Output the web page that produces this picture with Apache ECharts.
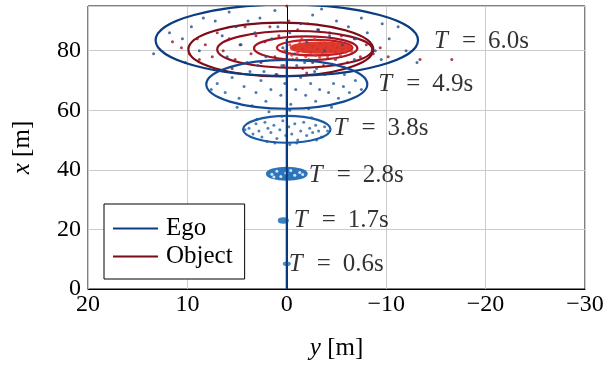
<!DOCTYPE html>
<html>
<head>
<meta charset="utf-8">
<script src="https://cdn.jsdelivr.net/npm/echarts@6/dist/echarts.min.js"></script>
<style>
  html, body { margin: 0; padding: 0; background: #fff; }
  #chart { width: 611px; height: 366px; }
</style>
</head>
<body>
<div id="chart"></div>
<script>
// ellipses: [y center, x center, half width in y, half height in x]
const egoEllipses = [
  [0.0, 83.5, 13.2, 12.0],
  [0.0, 68.7, 8.1, 8.2],
  [0.0, 53.6, 4.4, 4.5],
  [0.0, 38.7, 2.0, 2.0],
  [0.35, 23.0, 0.45, 0.7],
  [0.0, 8.5, 0.3, 0.4]
];
const egoColors = ["#0c3c80", "#104a94", "#1a5aa4", "#2e74bb", "#3a82c6", "#4a92d2"];
const egoFilled = [false, false, false, true, true, false];

const objEllipses = [
  [0.6, 80.4, 9.3, 9.0],
  [-0.8, 80.4, 7.8, 6.2],
  [-1.9, 80.8, 5.2, 4.0],
  [-2.8, 81.0, 3.8, 2.6],
  [-3.4, 81.0, 3.0, 1.7]
];
const objColors = ["#7a0b17", "#8e0e1c", "#a51320", "#bf1a22", "#dc3a2c"];
const objFilled = [false, false, false, false, true];

const egoTrack = [[0, 0], [0, 84]];

const tLabels = ["6.0", "4.9", "3.8", "2.8", "1.7", "0.6"];
const tLabelPos = [[-14.8, 83.2], [-9.2, 68.6], [-4.7, 53.8], [-2.2, 38.0], [-0.7, 23.0], [-0.2, 8.2]];

const egoDots60 = [[13.4,79],[11.8,86],[10.5,84],[9.6,88],[8.4,91],[7.2,90],[6.5,85],[5.8,93],[5.1,88],[4.6,82],
  [3.9,90],[3.2,86],[2.7,91],[2.1,78],[1.5,84],[0.9,88],[0.4,81],[-0.3,86],[-0.8,79],[-1.4,89],[-2.0,83],
  [-2.6,92],[-3.1,87],[-3.8,80],[-4.3,85],[-5.0,90],[-5.6,82],[-6.2,88],[-6.9,84],[-7.5,91],[-8.1,86],
  [-8.9,80],[-9.6,89],[-10.3,84],[-11.2,88],[-12.0,80],[-13.1,76],[-3.5,94],[1.2,93.5],[4.0,76],[-1.0,75],
  [6.0,78],[-6.8,77],[8.8,80],[-9.5,77],[2.3,73],[-2.8,73],[10.2,76]];
const egoDots49 = [[7.0,69],[6.2,66],[5.5,71],[4.8,64],[4.3,68],[3.7,73],[3.1,66],[2.6,70],[2.1,63],[1.6,67],
  [1.1,72],[0.6,65],[0.2,69],[-0.4,62],[-0.9,67],[-1.4,71],[-1.9,65],[-2.4,69],[-2.9,63],[-3.3,67],[-3.8,72],
  [-4.2,66],[-4.7,69],[-5.2,64],[-5.7,68],[-6.3,66],[-6.9,70],[-7.5,67],[0.5,75],[-1.8,76],[2.9,75],[-0.3,60],
  [1.8,59.5],[-2.2,60.5],[5.0,61],[-4.5,61],[7.6,67],[-3.0,74],[3.5,61.5],[-5.8,72]];
const egoDots38 = [[3.8,54],[3.4,52],[3.1,55.5],[2.8,53],[2.5,51],[2.2,56],[1.9,54],[1.6,52.5],[1.3,55],[1.0,50.5],
  [0.7,53.5],[0.4,56.5],[0.1,51.5],[-0.2,54.5],[-0.5,52],[-0.8,55.5],[-1.1,50],[-1.4,53],[-1.7,56],[-2.0,51.5],
  [-2.3,54],[-2.6,52.5],[-2.9,55],[-3.2,53],[-3.5,51],[-3.8,54.5],[-4.1,53],[2.0,49.5],[-1.0,49],[0.5,58],
  [-2.5,57.5],[3.0,57],[-0.3,48.5],[1.2,49],[-3.0,50],[4.2,53.5]];
const egoDots28 = [[1.5,38.5],[1.0,39.5],[0.6,37.8],[0.1,38.9],[-0.4,39.8],[-0.8,38.2],[-1.3,39.1],[1.3,37.6],[-1.6,38.4]];
const objDotsSparse = [[11.5,83],[10.6,81],[9.8,79],[9.0,84],[8.2,82],[7.5,78],[7.0,86],[6.4,80],[5.8,84],[5.2,77],
  [4.7,82],[4.2,88],[3.6,79],[3.1,85],[2.6,76],[2.2,83],[1.7,88],[1.2,78],[0.8,85],[0.3,75],[-0.2,90],[-0.6,77],
  [-1.1,87],[-1.6,74],[-2.1,89],[-2.6,76],[-3.2,87],[-3.7,75],[-4.3,86],[-4.9,77],[-5.5,85],[-6.1,76],[-6.8,84],
  [-7.4,78],[-8.0,82],[-8.7,79],[-9.4,81],[-13.4,77],[-16.6,77],[0.0,95],[5.5,74],[-2.0,72.5],[1.0,72],[8.8,77],[-10.2,78]];
const objDotsDense = [[0.2,80],[-0.3,82],[-0.5,78.5],[-0.8,81],[-1.1,79.5],[-1.3,83],[-1.6,80.5],[-1.9,78],[-2.1,82],
  [-2.4,79.5],[-2.6,81.5],[-2.9,78.5],[-3.1,80.5],[-3.4,82.5],[-3.6,79],[-3.9,81],[-4.1,78],[-4.4,80],[-4.6,82],
  [-4.9,79.5],[-5.1,81],[-5.4,78.5],[-5.6,80.5],[-5.9,79.5],[-6.2,80.8],[-6.5,79.8],[-1.0,77.5],[-2.2,77],
  [-3.8,83.5],[-2.8,83.8],[-0.1,79],[-1.5,84],[-4.8,77.5],[-3.3,77.8]];

const xTicks = [20, 10, 0, -10, -20, -30];
const yTicks = [0, 20, 40, 60, 80];

const FONT = "Liberation Serif";

function ellipseSeries(name, rows, colors, filled, z) {
  return {
    name: name,
    type: "custom",
    clip: true,
    z: z,
    encode: { x: 0, y: 1 },
    data: rows,
    renderItem: (params, api) => {
      const cy = api.value(0), cx = api.value(1);
      const c = api.coord([cy, cx]);
      const e1 = api.coord([cy + api.value(2), cx]);
      const e2 = api.coord([cy, cx + api.value(3)]);
      const i = params.dataIndex;
      return {
        type: "ellipse",
        shape: { cx: c[0], cy: c[1], rx: Math.abs(e1[0] - c[0]), ry: Math.abs(e2[1] - c[1]) },
        style: {
          fill: filled[i] ? colors[i] : "none",
          stroke: colors[i],
          lineWidth: 2.2,
        },
      };
    },
  };
}

function dots(rows, color, z) {
  return {
    type: "scatter",
    data: rows,
    symbolSize: 3,
    z: z,
    itemStyle: { color: color },
    silent: true,
  };
}

const chart = echarts.init(document.getElementById("chart"), null, { renderer: "canvas" });

const option = {
  animation: false,
  grid: {
    left: 88, right: 26, top: 6, bottom: 77,
    show: true, borderColor: "#000", borderWidth: 1,
  },
  legend: {
    orient: "vertical",
    left: 104, top: 204,
    padding: [12, 12, 10, 9],
    itemGap: 3,
    itemWidth: 45,
    itemHeight: 2,
    borderColor: "#000",
    borderWidth: 1,
    backgroundColor: "#fff",
    textStyle: { fontFamily: FONT, fontSize: 25, color: "#000", padding: [0, 0, 0, 3] },
    data: [
      { name: "Ego", icon: "rect", itemStyle: { color: "#0c3c80" } },
      { name: "Object", icon: "rect", itemStyle: { color: "#7a0b17" } },
    ],
  },
  xAxis: {
    type: "value",
    inverse: true,
    min: -30, max: 20, interval: 10,
    name: "{i|y} [m]",
    nameLocation: "middle",
    nameGap: 47,
    nameTextStyle: {
      fontFamily: FONT, fontSize: 25, color: "#000",
      rich: { i: { fontFamily: FONT, fontStyle: "italic", fontSize: 25 } },
    },
    axisLine: { lineStyle: { color: "#000" } },
    axisTick: { show: false },
    axisLabel: {
      fontFamily: FONT, fontSize: 24, color: "#000", margin: 4,
      formatter: (v) => (xTicks.includes(v) ? String(v).replace("-", "\u2212") : ""),
    },
    splitLine: { lineStyle: { color: "#cccccc" } },
  },
  yAxis: {
    type: "value",
    min: 0, max: 95, interval: 20,
    name: "{i|x} [m]",
    nameLocation: "middle",
    nameGap: 53,
    nameTextStyle: {
      fontFamily: FONT, fontSize: 25, color: "#000",
      rich: { i: { fontFamily: FONT, fontStyle: "italic", fontSize: 25 } },
    },
    axisLine: { lineStyle: { color: "#000" } },
    axisTick: { show: false },
    axisLabel: {
      fontFamily: FONT, fontSize: 24, color: "#000", margin: 7,
      formatter: (v) => (yTicks.includes(v) ? String(v) : ""),
    },
    splitLine: { lineStyle: { color: "#cccccc" } },
  },
  series: [
    ellipseSeries("Object", objEllipses, objColors, objFilled, 3),
    dots(objDotsSparse, "#9a1020", 4),
    dots(objDotsDense, "#d8302a", 4),
    dots(egoDots60, "#1b4f91", 5),
    dots(egoDots49, "#1f5a9e", 5),
    dots(egoDots38, "#2464aa", 5),
    ellipseSeries("EgoEllipses", egoEllipses, egoColors, egoFilled, 6),
    dots(egoDots28, "#ffffff", 6.5),
    {
      name: "Ego",
      type: "line",
      data: egoTrack,
      symbol: "none",
      z: 7,
      lineStyle: { color: "#0c3c80", width: 2.2 },
    },
    {
      type: "scatter",
      data: tLabelPos,
      symbolSize: 0,
      z: 8,
      silent: true,
      label: {
        show: true,
        position: "right",
        distance: 0,
        fontFamily: FONT,
        fontSize: 25,
        color: "#000",
        formatter: (p) => "{i|T}{e|=}{v|" + tLabels[p.dataIndex] + "s}",
        rich: {
          i: { fontFamily: FONT, fontStyle: "italic", fontSize: 25, width: 28 },
          e: { fontFamily: FONT, fontSize: 25, width: 26 },
          v: { fontFamily: FONT, fontSize: 25 },
        },
      },
    },
  ],
};

chart.setOption(option);
</script>
</body>
</html>
